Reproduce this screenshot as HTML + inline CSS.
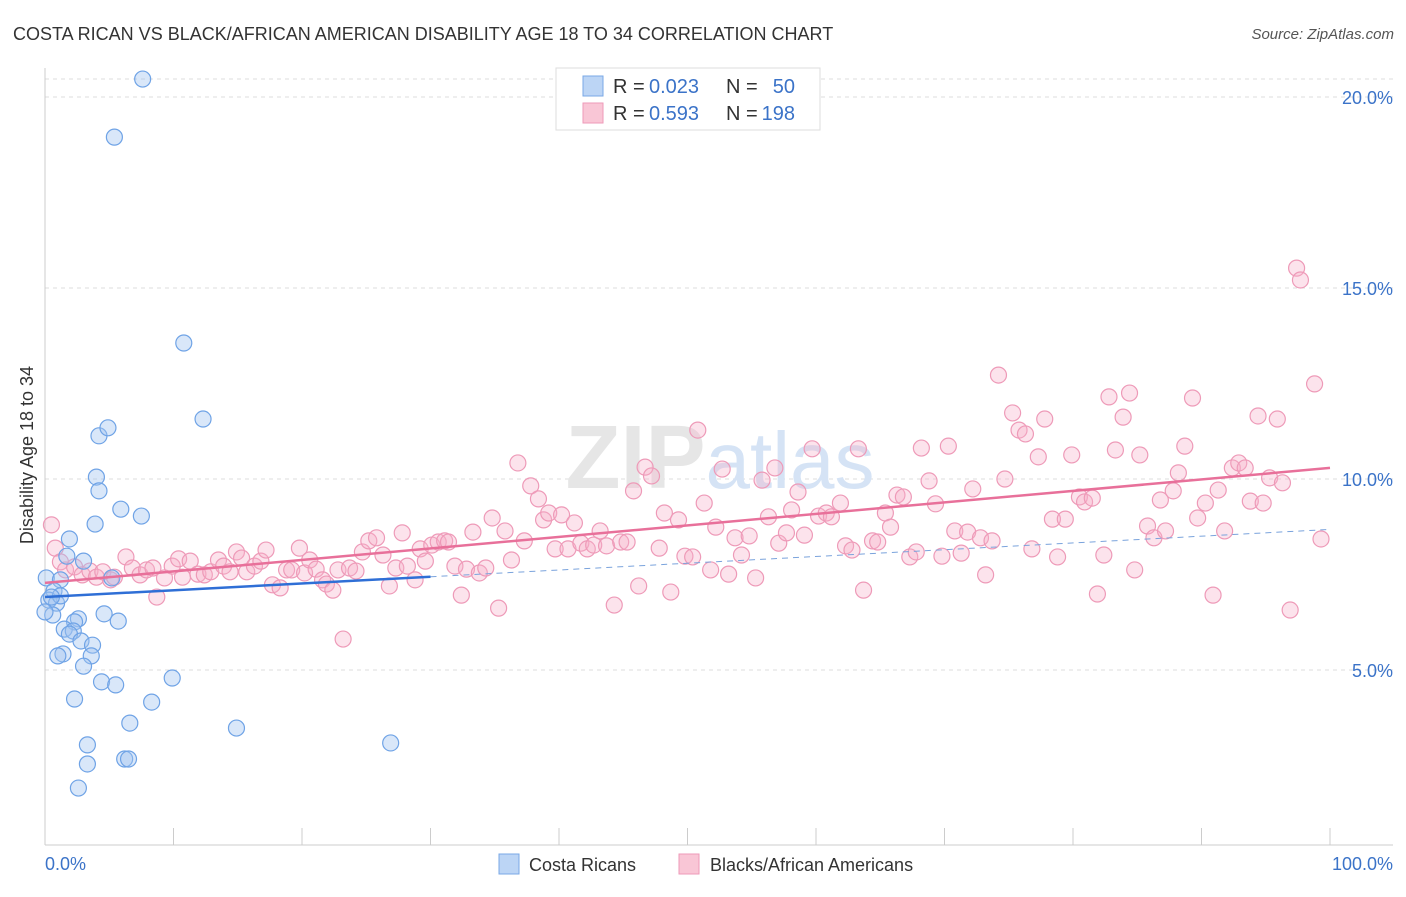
<!DOCTYPE html>
<html><head><meta charset="utf-8">
<style>
body{margin:0;background:#fff;font-family:"Liberation Sans",sans-serif;}
svg text{font-family:"Liberation Sans",sans-serif;}
</style></head>
<body>
<svg width="1406" height="892" xmlns="http://www.w3.org/2000/svg">
<text x="13" y="40" font-size="18" fill="#333">COSTA RICAN VS BLACK/AFRICAN AMERICAN DISABILITY AGE 18 TO 34 CORRELATION CHART</text>
<text x="1394" y="39" font-size="15" fill="#555" text-anchor="end" font-style="italic">Source: ZipAtlas.com</text>
<g id="grid"></g>
<text x="720" y="488" font-size="90" font-weight="bold" fill="#e6e6e6" text-anchor="middle" font-family="Liberation Serif">ZIP<tspan fill="#d5e3f5" font-family="Liberation Sans" font-weight="normal" font-size="80">atlas</tspan></text>
<g id="axes"></g>
<g id="pink"></g>
<g id="blue"></g>
<g id="trends"></g>
<text x="33" y="455" font-size="18" fill="#333" text-anchor="middle" transform="rotate(-90 33 455)">Disability Age 18 to 34</text>
<text x="45" y="870" font-size="18" fill="#3b73c8">0.0%</text>
<text x="1393" y="870" font-size="18" fill="#3b73c8" text-anchor="end">100.0%</text>
<g>
<rect x="556" y="68" width="264" height="62" fill="#fff" stroke="#ddd"/>
<rect x="583" y="76" width="20" height="20" fill="#bcd5f5" stroke="#7aa8e6"/>
<rect x="583" y="103" width="20" height="20" fill="#f9c6d6" stroke="#ee9ab8"/>
<text x="613" y="93" font-size="20" fill="#333">R =</text>
<text x="649" y="93" font-size="20" fill="#3b73c8">0.023</text>
<text x="726" y="93" font-size="20" fill="#333">N =</text>
<text x="795" y="93" font-size="20" fill="#3b73c8" text-anchor="end">50</text>
<text x="613" y="120" font-size="20" fill="#333">R =</text>
<text x="649" y="120" font-size="20" fill="#3b73c8">0.593</text>
<text x="726" y="120" font-size="20" fill="#333">N =</text>
<text x="795" y="120" font-size="20" fill="#3b73c8" text-anchor="end">198</text>
</g>
<g>
<rect x="499" y="854" width="20" height="20" fill="#bcd5f5" stroke="#7aa8e6"/>
<text x="529" y="871" font-size="18" fill="#333">Costa Ricans</text>
</g>
<g>
<rect x="679" y="854" width="20" height="20" fill="#f9c6d6" stroke="#ee9ab8"/>
<text x="710" y="871" font-size="18" fill="#333">Blacks/African Americans</text>
</g>
</svg>
<script>
const yTicks=[5,10,15,20];
const yTickLabels=["5.0%","10.0%","15.0%","20.0%"];
const xTicks=[0,10,20,30,40,50,60,70,80,90,100];
const blueX=[7.6,5.4,10.8,12.3,4.2,4.9,4.0,4.2,5.9,7.5,3.9,1.9,1.7,3.0,0.1,1.2,0.7,0.3,0.9,0.6,0.0,2.6,2.3,4.6,5.7,1.5,2.2,1.9,2.8,3.7,3.6,1.4,1.0,3.0,9.9,4.4,5.5,2.3,8.3,6.6,14.9,26.9,3.3,3.3,6.2,6.5,2.6,1.2,0.5,5.2];
const blueY=[20.47,18.95,13.56,11.57,11.13,11.34,10.05,9.69,9.21,9.03,8.82,8.43,7.98,7.85,7.41,7.36,7.07,6.83,6.75,6.44,6.52,6.34,6.26,6.47,6.28,6.07,6.02,5.94,5.76,5.65,5.37,5.42,5.37,5.10,4.79,4.69,4.61,4.24,4.16,3.61,3.48,3.09,3.04,2.54,2.67,2.67,1.91,6.94,6.91,7.41];
const pinkX=[0.5,0.8,1.2,1.6,2.3,2.9,3.5,4.0,4.5,5.1,5.4,6.3,6.8,7.4,7.9,8.4,8.7,9.3,9.9,10.4,10.7,11.3,11.9,12.4,12.9,13.5,13.9,14.4,14.9,15.3,15.7,16.3,16.8,17.2,17.7,18.3,18.8,19.2,19.8,20.2,20.6,21.1,21.6,21.9,22.4,22.8,23.2,23.7,24.2,24.7,25.2,25.8,26.3,26.8,27.3,27.8,28.2,28.8,29.2,29.6,30.1,30.6,31.1,31.4,31.9,32.4,32.8,33.3,33.8,34.3,34.8,35.3,35.8,36.3,36.8,37.3,37.8,38.4,38.8,39.2,39.7,40.2,40.7,41.2,41.7,42.2,42.7,43.2,43.7,44.3,44.8,45.3,45.8,46.2,46.7,47.2,47.8,48.2,48.7,49.3,49.8,50.4,50.8,51.3,51.8,52.2,52.7,53.2,53.7,54.2,54.8,55.3,55.8,56.3,56.8,57.1,57.7,58.1,58.6,59.1,59.7,60.2,60.8,61.2,61.9,62.3,62.8,63.3,63.7,64.4,64.8,65.4,65.8,66.3,66.8,67.3,67.8,68.2,68.8,69.3,69.8,70.3,70.8,71.3,71.8,72.2,72.8,73.2,73.7,74.2,74.7,75.3,75.8,76.3,76.8,77.3,77.8,78.4,78.8,79.4,79.9,80.5,80.9,81.5,81.9,82.4,82.8,83.3,83.9,84.4,84.8,85.2,85.8,86.3,86.8,87.2,87.8,88.2,88.7,89.3,89.7,90.3,90.9,91.3,91.8,92.4,92.9,93.4,93.8,94.4,94.8,95.3,95.9,96.3,96.9,97.4,97.7,98.8,99.3];
const pinkY=[8.80,8.19,7.83,7.62,7.70,7.49,7.59,7.43,7.57,7.36,7.43,7.96,7.67,7.49,7.62,7.67,6.91,7.41,7.72,7.91,7.43,7.85,7.51,7.49,7.57,7.88,7.72,7.57,8.09,7.93,7.57,7.72,7.85,8.14,7.23,7.15,7.62,7.62,8.19,7.54,7.88,7.64,7.36,7.25,7.09,7.62,5.81,7.67,7.59,8.09,8.38,8.46,8.01,7.20,7.67,8.59,7.72,7.36,8.17,7.85,8.27,8.35,8.38,8.35,7.72,6.96,7.64,8.61,7.54,7.67,8.98,6.62,8.64,7.88,10.42,8.38,9.82,9.48,8.93,9.11,8.17,9.06,8.17,8.85,8.32,8.17,8.27,8.64,8.25,6.70,8.35,8.35,9.69,7.20,10.31,10.08,8.19,9.11,7.04,8.93,7.98,7.96,11.28,9.37,7.62,8.74,10.26,7.51,8.46,8.01,8.51,7.41,9.97,9.01,10.29,8.32,8.59,9.19,9.66,8.53,10.79,9.03,9.11,9.01,9.37,8.25,8.14,10.79,7.09,8.38,8.35,9.11,8.74,9.58,9.53,7.96,8.09,10.81,9.95,9.35,7.98,10.86,8.64,8.06,8.61,9.74,8.46,7.49,8.38,12.72,10.00,11.73,11.28,11.18,8.17,10.58,11.57,8.95,7.96,8.95,10.63,9.53,9.40,9.50,6.99,8.01,12.15,10.76,11.62,12.25,7.62,10.63,8.77,8.46,9.45,8.64,9.69,10.16,10.86,12.12,8.98,9.37,6.96,9.71,8.64,10.29,10.42,10.29,9.42,11.65,9.37,10.03,11.57,9.90,6.57,15.52,15.21,12.49,8.43];
const blueTrend=[6.91,8.68];
const blueSolidEnd=30;
const pinkTrend=[7.28,10.29];

const NS="http://www.w3.org/2000/svg";
const X0=45,X1=1330,Y0px=861,PXPER=38.2;
const sx=v=>X0+v/100*(X1-X0);
const sy=v=>Y0px-v*PXPER;
function mk(tag,attrs,parent){const e=document.createElementNS(NS,tag);for(const k in attrs)e.setAttribute(k,attrs[k]);parent.appendChild(e);return e;}
const grid=document.getElementById('grid'),axes=document.getElementById('axes');
yTicks.forEach((t,i)=>{
  const l=mk('line',{x1:45,x2:1393,y1:sy(t),y2:sy(t),stroke:'#ddd','stroke-dasharray':'4,4'},grid);
  
  
  const tx=mk('text',{x:1393,y:sy(t)+7,'font-size':18,fill:'#3b73c8','text-anchor':'end'},axes);
  tx.textContent=yTickLabels[i];
  
  
});
const topLine=mk('line',{x1:45,x2:1393,y1:79,y2:79,stroke:'#ddd','stroke-dasharray':'4,4'},grid);


const ya=mk('line',{x1:45,x2:45,y1:68,y2:845,stroke:'#ccc'},axes);


const xa=mk('line',{x1:45,x2:1393,y1:845,y2:845,stroke:'#ccc'},axes);


xTicks.forEach(t=>{
  const l=mk('line',{x1:sx(t),x2:sx(t),y1:828,y2:845,stroke:'#ccc'},axes);
  
  
});
const pg=document.getElementById('pink');
pinkX.forEach((x,i)=>{
  const c=mk('circle',{cx:sx(x),cy:sy(pinkY[i]),r:8,fill:'rgba(246,176,200,0.35)',stroke:'#ee9ab8','stroke-width':1.2},pg);
  
  
});
const bg=document.getElementById('blue');
blueX.forEach((x,i)=>{
  const c=mk('circle',{cx:sx(x),cy:sy(blueY[i]),r:8,fill:'rgba(160,196,240,0.4)',stroke:'#6fa3e6','stroke-width':1.2},bg);
  
  
});
const tg=document.getElementById('trends');
const by=x=>blueTrend[0]+(blueTrend[1]-blueTrend[0])*x/100;
const b1=mk('line',{x1:sx(0),y1:sy(by(0)),x2:sx(blueSolidEnd),y2:sy(by(blueSolidEnd)),stroke:'#2f6fd6','stroke-width':2.5},tg);


const b2=mk('line',{x1:sx(blueSolidEnd),y1:sy(by(blueSolidEnd)),x2:sx(100),y2:sy(by(100)),stroke:'#7aa3dc','stroke-width':1,'stroke-dasharray':'6,5'},tg);


const p1=mk('line',{x1:sx(0),y1:sy(pinkTrend[0]),x2:sx(100),y2:sy(pinkTrend[1]),stroke:'#e8709a','stroke-width':2.5},tg);


</script>
</body></html>
